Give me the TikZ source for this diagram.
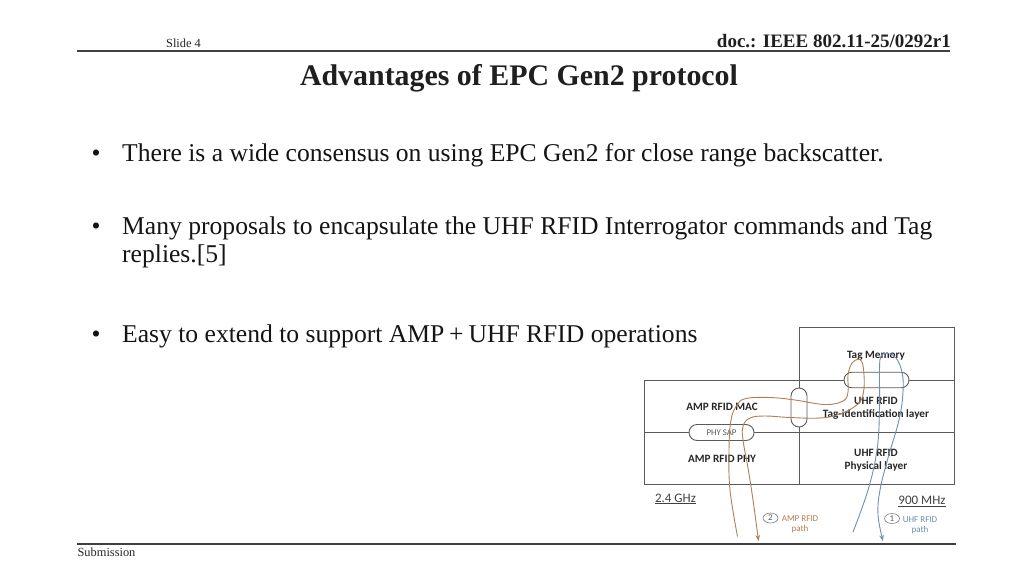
\documentclass[tikz,border=0pt]{standalone}
\usepackage{fontspec}
\setmainfont{Liberation Serif}
\newfontfamily\diag{Carlito}
\usetikzlibrary{arrows.meta,shapes.misc,shapes.geometric}
\definecolor{grid}{HTML}{5A5A5A}
\definecolor{amp}{HTML}{B07F55}
\definecolor{uhf}{HTML}{6F8FAE}
\tikzset{
  x=1pt,y=-1pt,
  slidetext/.style={anchor=base west,inner sep=0,font=\fontsize{25.6}{30}\selectfont,text=black!92},
  smalltext/.style={anchor=base,inner sep=0,font=\fontsize{12.4}{14}\selectfont,text=black!85},
  rule/.style={line width=1.2pt,draw=black!75},
  cell/.style={draw=grid,line width=1pt,minimum width=0,inner sep=0},
  oval/.style={rounded rectangle,draw=grid,line width=0.9pt,fill=white,inner sep=0},
  layer/.style={inner sep=0,align=center,font=\diag\bfseries\fontsize{11.2}{13.2}\selectfont,text=black!85},
  freq/.style={inner sep=0,font=\diag\fontsize{13}{15}\selectfont,text=black!75},
  pathlabel/.style={inner sep=0,align=center,font=\diag\fontsize{9}{10.4}\selectfont},
  num/.style={ellipse,draw=black!50,line width=0.6pt,inner sep=0,minimum width=15pt,minimum height=10pt,font=\diag\fontsize{9}{9}\selectfont,text=black!65},
  amppath/.style={draw=amp,line width=0.9pt},
  uhfpath/.style={draw=uhf,line width=0.9pt},
}
\begin{document}
\begin{tikzpicture}
\useasboundingbox (0,0) rectangle (1024,576);
\fill[white] (0,0) rectangle (1024,576);
% header and footer
\coordinate (hl) at (77,51); \coordinate (hr) at (950,51);
\coordinate (fl) at (77,544); \coordinate (fr) at (956,544);
\draw[rule] (hl) -- (hr);
\draw[rule] (fl) -- (fr);
\node[smalltext] (slide) at (183.5,47) {Slide 4};
\node[anchor=base east,inner sep=0,font=\bfseries\fontsize{19}{22}\selectfont,text=black!88] (doc) at (951,47) {doc.: IEEE 802.11-25/0292r1};
\node[anchor=base,inner sep=0,font=\bfseries\fontsize{29.9}{34}\selectfont,text=black!88] (title) at (519,85) {Advantages of EPC Gen2 protocol};
\node[smalltext] (sub) at (106.5,556) {Submission};
% bullets
\node[slidetext] (b1) at (91.5,161.5) {•};
\node[slidetext] (t1) at (122,161.5) {There is a wide consensus on using EPC Gen2 for close range backscatter.};
\node[slidetext] (b2) at (91.5,234) {•};
\node[slidetext] (t2) at (122,234) {Many proposals to encapsulate the UHF RFID Interrogator commands and Tag};
\node[slidetext] (t2b) at (122,262) {replies.[5]};
\node[slidetext] (b3) at (91.5,342) {•};
\node[slidetext] (t3) at (122,342) {Easy to extend to support AMP\hspace{-1.5pt} +\hspace{-1.5pt} UHF RFID operations};
% grid
\coordinate (tl) at (799,327); \coordinate (tr) at (954,380);
\coordinate (ml) at (644,380); \coordinate (mm) at (799,432); \coordinate (mr) at (954,432);
\coordinate (bl) at (644,484); \coordinate (bm) at (799,484); \coordinate (br) at (954,484);
\coordinate (lm) at (644,432); \coordinate (cm) at (799,380);
\draw[cell] (tl) rectangle (tr);
\draw[cell] (ml) rectangle (br);
\draw[cell] (lm) -- (mr);
\draw[cell] (cm) -- (bm);
% ovals
\node[oval,minimum width=65pt,minimum height=15.5pt] (memsap) at (876.5,380) {};
\node[oval,minimum width=39pt,minimum height=16pt,rotate=90] (midsap) at (799,407.5) {};
\node[oval,minimum width=65pt,minimum height=16pt,font=\diag\fontsize{8.8}{10}\selectfont,text=black!65] (physap) at (721.5,432.5) {PHY SAP};
% labels
\node[layer] (tagmem) at (876,355.5) {Tag Memory};
\node[layer] (uhfmac) at (876,408) {UHF RFID\\Tag-identification layer};
\node[layer] (ampmac) at (722,406.5) {AMP RFID MAC};
\node[layer] (ampphy) at (722,458.5) {AMP RFID PHY};
\node[layer] (uhfphy) at (876,460) {UHF RFID\\Physical layer};
\node[freq] (f24) at (675.5,499) {\underline{2.4 GHz}};
\node[freq] (f900) at (922,501.5) {\underline{900 MHz}};
\node[num] (n2) at (770.5,518) {2};
\node[pathlabel,text=amp] (l2) at (800,524.5) {AMP RFID\\path};
\node[num] (n1) at (892,518.5) {1};
\node[pathlabel,text=uhf] (l1) at (920,525.5) {UHF RFID\\path};
% paths
\coordinate (aS) at (737.5,536.5);
\coordinate (aE) at (758.5,541);
\coordinate (uS) at (853,532);
\coordinate (uE) at (883,541);
\draw[amppath,-{Stealth[length=6pt,width=4.5pt]}] plot[smooth,tension=0.65] coordinates {
 (aS) (730,490) (729,450) (731,420) (737,405) (746,398.5) (770,397.5) (795,400) (825,404.5) (843,401) (848,392) (848,375) (852,363) (858,359.5) (862,362) (864,375) (863.5,392) (858,404) (840,414) (820,418) (790,417.5) (765,416) (750,418) (743,426) (743,440) (748,468) (753,500) (aE)};
\draw[uhfpath,-{Stealth[length=6pt,width=4.5pt]}] plot[smooth,tension=0.65] coordinates {
 (uS) (868,490) (877,450) (879.5,410) (879.5,370) (881,356) (888,353.5) (896,358) (902,372) (903,392) (899,420) (888,458) (880,490) (878,515) (uE)};
\end{tikzpicture}
\end{document}
